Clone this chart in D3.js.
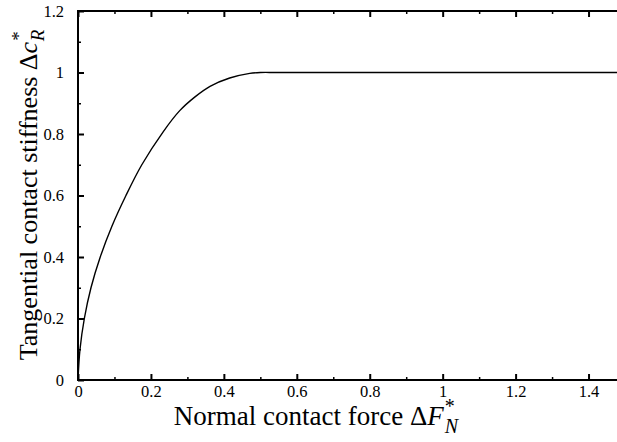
<!DOCTYPE html>
<html>
<head>
    <meta charset="utf-8" />
    <title>Tangential contact stiffness</title>
    <style>
        body { margin: 0; background: #fff; }
        #chart { width: 617px; height: 442px; }
    </style>
</head>
<body>
    <div id="chart"></div>
    <script src="https://cdnjs.cloudflare.com/ajax/libs/d3/7.8.5/d3.min.js"></script>
    <script>
        // values
        var forceValues = [0, 0.0055, 0.0174, 0.0356, 0.061, 0.093, 0.1315, 0.175, 0.234, 0.279,
                           0.32, 0.362, 0.416, 0.471, 0.5, 0.55, 1.5]
        var stiffnessValues = [0, 0.1, 0.2, 0.3, 0.4, 0.5, 0.6, 0.7, 0.808, 0.876,
                               0.92, 0.955, 0.982, 0.997, 1.0, 1.0, 1.0]
        var xTicks = [0, 0.2, 0.4, 0.6, 0.8, 1, 1.2, 1.4]
        var xMinorTicks = [0.1, 0.3, 0.5, 0.7, 0.9, 1.1, 1.3, 1.5]
        var yTicks = [0, 0.2, 0.4, 0.6, 0.8, 1, 1.2]
        var yMinorTicks = [0.1, 0.3, 0.5, 0.7, 0.9, 1.1]

        var font = "'Liberation Serif', 'Times New Roman', serif"
        var width = 617, height = 442
        var margin = { left: 78, top: 11, right: -8, bottom: 62 }

        var svg = d3.select("#chart").append("svg")
            .attr("width", width)
            .attr("height", height)

        var x = d3.scaleLinear().domain([0, 1.5]).range([margin.left, width - margin.right])
        var y = d3.scaleLinear().domain([0, 1.2]).range([height - margin.bottom, margin.top])

        var fmt = function (d) { return String(+d.toFixed(1)) }

        function styleAxis(g, w) {
            g.select(".domain").remove()
            g.selectAll(".tick line").attr("stroke-width", w)
            g.selectAll(".tick text")
                .style("font-family", font)
                .style("font-size", "16.5px")
                .attr("fill", "#000")
        }

        // bottom axis (ticks inward)
        svg.append("g")
            .attr("transform", "translate(0," + y(0) + ")")
            .call(d3.axisBottom(x).tickValues(xTicks).tickSize(-6).tickPadding(5).tickFormat(fmt))
            .call(styleAxis, 2)
        svg.append("g")
            .attr("transform", "translate(0," + y(0) + ")")
            .call(d3.axisBottom(x).tickValues(xMinorTicks).tickSize(-3).tickFormat(""))
            .call(styleAxis, 1.5)

        // top mirror ticks
        svg.append("g")
            .attr("transform", "translate(0," + y(1.2) + ")")
            .call(d3.axisTop(x).tickValues(xTicks).tickSize(-6).tickFormat(""))
            .call(styleAxis, 2)
        svg.append("g")
            .attr("transform", "translate(0," + y(1.2) + ")")
            .call(d3.axisTop(x).tickValues(xMinorTicks).tickSize(-3).tickFormat(""))
            .call(styleAxis, 1.5)

        // left axis
        svg.append("g")
            .attr("transform", "translate(" + x(0) + ",0)")
            .call(d3.axisLeft(y).tickValues(yTicks).tickSize(-6).tickPadding(14).tickFormat(fmt))
            .call(styleAxis, 2)
        svg.append("g")
            .attr("transform", "translate(" + x(0) + ",0)")
            .call(d3.axisLeft(y).tickValues(yMinorTicks).tickSize(-3).tickFormat(""))
            .call(styleAxis, 1.5)

        // frame
        svg.append("rect")
            .attr("x", x(0))
            .attr("y", y(1.2))
            .attr("width", x(1.5) - x(0))
            .attr("height", y(0) - y(1.2))
            .attr("fill", "none")
            .attr("stroke", "#000")
            .attr("stroke-width", 2)

        // curve
        var points = forceValues.map(function (f, i) { return [f, stiffnessValues[i]] })
        var line = d3.line()
            .x(function (d) { return x(d[0]) })
            .y(function (d) { return y(d[1]) })
            .curve(d3.curveCatmullRom.alpha(0.5))
        svg.append("path")
            .datum(points)
            .attr("d", line)
            .attr("fill", "none")
            .attr("stroke", "#000")
            .attr("stroke-width", 1.4)

        // x title
        var xt = svg.append("text")
            .attr("x", 316)
            .attr("y", 425)
            .attr("text-anchor", "middle")
            .style("font-family", font)
            .style("font-size", "27px")
        xt.append("tspan").text("Normal contact force \u0394")
        xt.append("tspan").attr("font-style", "italic").text("F")
        xt.append("tspan").style("font-size", "20px").attr("dy", -12).attr("dx", 1).text("*")
        xt.append("tspan").style("font-size", "20px").attr("font-style", "italic").attr("dy", 20).attr("dx", -10).text("N")

        // y title
        var yt = svg.append("text")
            .attr("transform", "translate(37,195) rotate(-90)")
            .attr("text-anchor", "middle")
            .style("font-family", font)
            .style("font-size", "26px")
        yt.append("tspan").text("Tangential contact stiffness \u0394")
        yt.append("tspan").attr("font-style", "italic").text("c")
        yt.append("tspan").style("font-size", "19px").attr("dy", -12).attr("dx", 1).text("*")
        yt.append("tspan").style("font-size", "19px").attr("font-style", "italic").attr("dy", 19).attr("dx", -10).text("R")
    </script>
</body>
</html>
